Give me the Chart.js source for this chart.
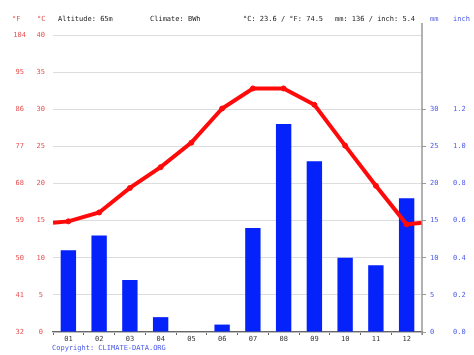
<!DOCTYPE html>
<html>
<head>
<meta charset="utf-8">
<script src="https://cdn.jsdelivr.net/npm/chart.js@4"></script>
<style>
  body { margin: 0; background: #fff; }
  #wrap { position: relative; width: 474px; height: 355px; }
  .lbl { position: absolute; font: 7px "DejaVu Sans Mono", monospace; line-height: 8px; white-space: pre; color: #222; }
  .red { color: #e65050; }
  .blue { color: #4a5ae8; }
</style>
</head>
<body>
<div id="wrap">
  <canvas id="chart" width="474" height="355"></canvas>
  <div class="lbl red" style="left:12px;top:15px">°F</div>
  <div class="lbl red" style="left:37px;top:15px">°C</div>
  <div class="lbl" style="left:58px;top:15px">Altitude: 65m</div>
  <div class="lbl" style="left:150px;top:15px">Climate: BWh</div>
  <div class="lbl" style="left:243px;top:15px">°C: 23.6 / °F: 74.5</div>
  <div class="lbl" style="left:335px;top:15px">mm: 136 / inch: 5.4</div>
  <div class="lbl blue" style="left:430px;top:15px">mm</div>
  <div class="lbl blue" style="left:453px;top:15px">inch</div>
  <div class="lbl blue" style="left:52px;top:344px">Copyright: CLIMATE-DATA.ORG</div>
</div>
<script>
const months = ["01", "02", "03", "04", "05", "06", "07", "08", "09", "10", "11", "12"];
const precipMm = [11, 13, 7, 2, 0, 1, 14, 28, 23, 10, 9, 18];
const tempC = [14.9, 16.1, 19.4, 22.2, 25.5, 30.1, 32.8, 32.8, 30.6, 25.1, 19.7, 14.5];
const mmTickMax = 30;

// line runs past the first/last month to the plot edges
const edgeTemp = (tempC[0] + tempC[11]) / 2;
const linePoints = [{ x: 0.5, y: edgeTemp }]
  .concat(tempC.map((t, i) => ({ x: i + 1, y: t })))
  .concat([{ x: 12.5, y: edgeTemp }]);

Chart.defaults.font.family = "'DejaVu Sans Mono', monospace";
Chart.defaults.font.size = 7;

const rightLine = {
  id: "rightLine",
  afterDraw(chart) {
    const { ctx, chartArea } = chart;
    ctx.save();
    ctx.strokeStyle = "#999";
    ctx.lineWidth = 1.5;
    ctx.beginPath();
    ctx.moveTo(chartArea.right, chartArea.top - 12);
    ctx.lineTo(chartArea.right, chartArea.bottom + 3);
    ctx.stroke();
    ctx.restore();
  }
};

new Chart(document.getElementById("chart").getContext("2d"), {
  data: {
    labels: months,
    datasets: [
      {
        type: "line",
        data: linePoints,
        xAxisID: "x2",
        yAxisID: "yC",
        borderColor: "#ff0a0a",
        backgroundColor: "#ff0a0a",
        borderWidth: 4,
        pointRadius: linePoints.map((p, i) => (i === 0 || i === linePoints.length - 1 ? 0 : 2.5)),
        pointBorderWidth: 1,
        tension: 0
      },
      {
        type: "bar",
        data: precipMm,
        xAxisID: "x",
        yAxisID: "yMM",
        backgroundColor: "#0622fa",
        grouped: false,
        barPercentage: 0.5,
        categoryPercentage: 1
      }
    ]
  },
  options: {
    responsive: false,
    animation: false,
    layout: { padding: { left: 0, top: 35, right: 0, bottom: 9 } },
    plugins: { legend: { display: false }, tooltip: { enabled: false } },
    scales: {
      x: {
        type: "category",
        offset: true,
        afterFit: (s) => { s.height = 14; },
        grid: { drawOnChartArea: false, drawTicks: true, tickLength: 3, color: "#666" },
        border: { color: "#666", width: 1.2 },
        ticks: { color: "#333", padding: 0, maxRotation: 0 }
      },
      x2: {
        type: "linear",
        min: 0.5,
        max: 12.5,
        display: false
      },
      yC: {
        position: "left",
        weight: 0,
        min: 0,
        max: 40,
        afterFit: (s) => { s.width = 22; },
        ticks: { stepSize: 5, color: "#e65050", crossAlign: "center", padding: 8 },
        grid: { color: "#dddddd", drawTicks: false },
        border: { display: false }
      },
      yF: {
        position: "left",
        weight: 1,
        min: 32,
        max: 104,
        afterFit: (s) => { s.width = 31; },
        ticks: { stepSize: 9, color: "#e65050", crossAlign: "center", padding: 5 },
        grid: { display: false, drawTicks: false },
        border: { display: false }
      },
      yMM: {
        position: "right",
        weight: 0,
        min: 0,
        max: 40,
        afterFit: (s) => { s.width = 25; },
        afterBuildTicks: (s) => { s.ticks = s.ticks.filter((t) => t.value <= mmTickMax); },
        ticks: { stepSize: 5, color: "#4a5ae8", padding: 4 },
        grid: { drawOnChartArea: false, drawTicks: true, tickLength: 4, color: "#999" },
        border: { display: false }
      },
      yIn: {
        position: "right",
        weight: 1,
        min: 0,
        max: 1.6,
        afterFit: (s) => { s.width = 27; },
        afterBuildTicks: (s) => { s.ticks = s.ticks.filter((t) => t.value <= 1.2001); },
        ticks: { stepSize: 0.2, color: "#4a5ae8", padding: 6, callback: (v) => Number(v).toFixed(1) },
        grid: { display: false, drawTicks: false },
        border: { display: false }
      }
    }
  },
  plugins: [rightLine]
});
</script>
</body>
</html>
